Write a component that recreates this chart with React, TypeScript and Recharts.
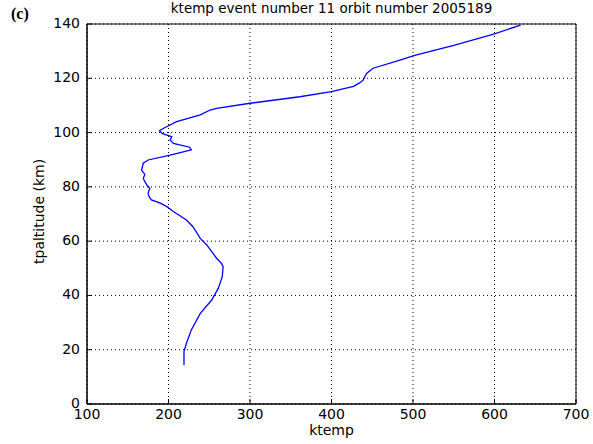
import { CartesianGrid, Line, LineChart, ReferenceArea, XAxis, YAxis } from "recharts"

const altitude = [
  14.4, 19.3, 22.4, 27.3, 33.4, 38.3, 42.6, 46.9, 50.6, 51.8, 53.7, 56.1, 58.6, 61.0, 65.3, 67.8,
  70.9, 72.7, 74.0, 75.2, 76.5, 77.6, 79.5, 80.5, 81.9, 83.2, 84.5, 86.2, 88.7, 89.9, 91.7, 93.6,
  94.6, 96.0, 97.3, 98.5, 99.1, 99.7, 100.7, 101.6, 104.0, 106.5, 108.3, 108.9, 110.8, 113.2,
  115.1, 117.0, 118.4, 119.4, 121.8, 123.7, 126.7, 128.4, 132.1, 136.4, 139.6,
]
const ktemp = [
  219, 219, 222, 228, 239, 253, 261, 266, 267, 265, 259, 253, 247, 239, 230, 222,
  206, 198, 190, 179, 176, 175, 177, 174, 171, 169, 171, 167, 169, 175, 202, 228,
  226, 206, 202, 204, 198, 192, 189, 194, 210, 239, 251, 259, 300, 361,
  400, 427, 435, 439, 443, 451, 484, 502, 550, 600, 632,
]
const xTicks = [100, 200, 300, 400, 500, 600, 700]
const yTicks = [0, 20, 40, 60, 80, 100, 120, 140]

const data = altitude.map((alt, i) => ({ alt, temp: ktemp[i] }))

const font = "'DejaVu Sans', sans-serif"

// recharts puts the tick anchor 8px outside the axis line (tickSize 6 + margin 2)
const XTick = (props: any) => {
  const { x, y, payload } = props
  return (
    <g>
      <line x1={x} x2={x} y1={y - 8} y2={y - 13} stroke="#000" />
      <text x={x} y={y + 7} textAnchor="middle" fontSize={14} fontFamily={font} fill="#000">
        {payload.value}
      </text>
    </g>
  )
}

const YTick = (props: any) => {
  const { x, y, payload } = props
  return (
    <g>
      <line x1={x + 8} x2={x + 13} y1={y} y2={y} stroke="#000" />
      <text x={x + 1} y={y + 4} textAnchor="end" fontSize={14} fontFamily={font} fill="#000">
        {payload.value}
      </text>
    </g>
  )
}

export default function App() {
  return (
    <div style={{ position: "fixed", left: 0, top: 0, width: 593, height: 444, background: "#fff" }}>
      <div
        style={{
          position: "absolute", left: 11, top: 5, fontFamily: "'Liberation Serif', serif",
          fontWeight: "bold", fontSize: 16,
        }}
      >
        (c)
      </div>
      <div
        style={{
          position: "absolute", left: 87, width: 489, top: 0, textAlign: "center",
          fontFamily: font, fontSize: 13.5,
        }}
      >
        ktemp event number 11 orbit number 2005189
      </div>
      <LineChart width={593} height={444} data={data} margin={{ top: 24, right: 17, bottom: 20, left: 37 }}>
        <CartesianGrid stroke="#000" strokeDasharray="1 3" />
        <XAxis
          type="number"
          dataKey="temp"
          domain={[100, 700]}
          ticks={xTicks}
          stroke="#000"
          tickLine={false}
          tick={<XTick />}
          height={20}
        />
        <YAxis
          type="number"
          dataKey="alt"
          domain={[0, 140]}
          ticks={yTicks}
          stroke="#000"
          tickLine={false}
          tick={<YTick />}
          width={50}
          label={{
            value: "tpaltitude (km)", angle: -90, position: "insideLeft", offset: 2, dy: 50,
            fill: "#000", fontSize: 14, fontFamily: font,
          }}
        />
        <ReferenceArea x1={100} x2={700} y1={0} y2={140} fill="none" stroke="#000" strokeWidth={1} />
        <Line
          type="linear"
          dataKey="alt"
          stroke="#0000ff"
          strokeWidth={1.3}
          dot={false}
          isAnimationActive={false}
        />
      </LineChart>
      <div
        style={{
          position: "absolute", left: 87, width: 489, top: 424, textAlign: "center",
          fontFamily: font, fontSize: 14, lineHeight: "12px",
        }}
      >
        ktemp
      </div>
    </div>
  )
}
